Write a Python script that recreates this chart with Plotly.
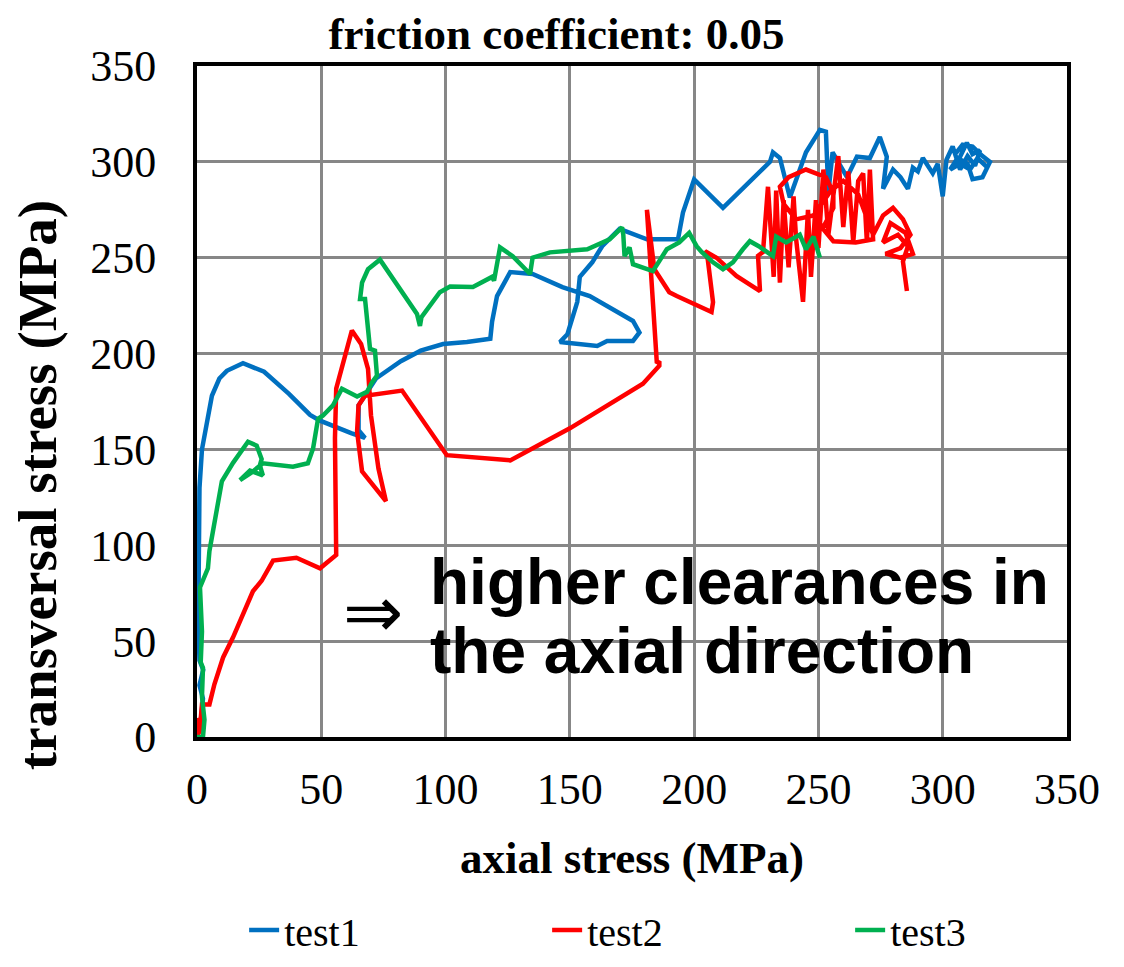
import plotly.graph_objects as go

# ---- data ----
test1_x = [0, 1.5, 2.4, 1, 2.5, 1, 0.5, 0.8, 1, 2, 4, 6, 9, 12, 18.5, 27, 37, 45.5, 49.5, 55, 62, 67.6,
           65, 65, 72, 82, 90, 99, 108.6, 118, 118.7, 120.7, 126, 135, 147, 158, 169, 175.4, 178, 175.4,
           165, 161, 146, 149, 153, 154, 159, 163, 170, 181, 193.5, 195.5, 200, 211.6, 230.5, 231.7,
           234.5, 238.5, 245, 250.6, 253, 254, 255.7, 261.5, 265.5, 270.7, 274.7, 277.5, 276, 280, 283,
           286, 288, 290, 292, 294, 296, 298, 300, 301.5, 304, 306, 308, 309.7, 312, 315, 313, 310, 307,
           305, 308, 312, 316, 319, 316, 312, 310, 306, 303, 307, 311, 314, 318]
test1_y = [0, 8, 20, 27, 35, 40, 60, 100, 130, 150, 165, 178, 187, 191, 195, 190.5, 179, 168, 165, 162,
           158.5, 156, 160, 173, 187, 196, 201.5, 205, 206, 207.7, 216.5, 230, 242.5, 241.5, 234.7, 230,
           221.7, 217, 211, 206.6, 206.6, 204, 206, 210, 227, 240, 247.6, 256, 265, 259.6, 259.6, 273.6,
           290.8, 276, 300, 305, 302, 281.4, 305, 316.7, 315.7, 284, 305, 292, 302.7, 302, 313, 302.7,
           286, 296, 292, 286, 297, 295, 302, 298, 294, 299, 282, 301, 308, 300, 306, 310, 304, 306, 298,
           303, 296, 304, 309, 308, 303, 300, 292, 291, 299, 302, 296, 299, 296, 302, 297]

test2_x = [0, 1, 0.5, 1, 2, 5, 7, 10.5, 14.5, 18.5, 22.5, 26, 30.6, 40, 49.5, 56, 55.5, 56, 59.5, 62.3,
           66, 68.8, 70, 73, 76, 66.4, 64.4, 65, 67.6, 82.5, 100.5, 126, 150, 179.4, 186, 186, 185, 181,
           184, 190, 193, 207, 207.6, 205.5, 204.4, 209, 217, 226.5, 225.7, 227.7, 229.7, 232, 233,
           234.5, 236, 238, 240, 241, 243.8, 245.8, 247, 249, 250, 252, 254, 258, 260, 262, 264, 266,
           268, 269.5, 270.7, 272, 265, 256, 250, 252, 256, 256, 253, 245, 238, 234.5, 236, 241, 248,
           255, 260, 266, 272, 276, 280, 284, 287, 283, 277, 283, 288, 285, 279, 276, 282, 286, 284,
           285.6]
test2_y = [0, 3, 10, 2, 17, 17, 27.5, 41.5, 52, 64, 76, 81.5, 92, 93.5, 88, 95, 155.8, 181.7, 199, 212,
           205, 192, 167.7, 140, 123, 138.6, 159.4, 173, 178, 180.7, 147, 144.3, 161, 184.3, 193.7, 196,
           195, 275, 244, 232, 230, 221.7, 226.8, 249, 253.4, 250, 240.5, 232.6, 251, 253, 287, 240, 285,
           237, 280, 245, 282, 260, 227, 275, 240, 280, 255, 296, 262, 303, 266, 295, 258, 290, 294, 258,
           296, 259.6, 258, 258.6, 268, 266, 276, 284, 292, 296, 292, 287, 278, 270, 272, 285, 290, 283,
           262, 272, 276, 270, 262, 255, 252, 250, 252, 263, 268, 258, 262, 256, 248, 232.6]

test3_x = [0, 2.4, 3, 2, 2.4, 1.5, 2, 1.2, 4.4, 5, 10, 14.5, 20.5, 24, 26, 25.3, 26.5, 21.3, 17.3, 22,
           26.5, 38.6, 44.6, 46.7, 48.7, 50.7, 54.7, 58.3, 64.4, 68.4, 70.4, 72.4, 71.6, 69.6, 67.6,
           65.6, 66.4, 68.8, 73.6, 81.7, 88.5, 89.7, 90.3, 97.7, 101.8, 111, 118.7, 119.5, 121.9, 127,
           134, 135, 142, 157, 166, 171, 171.5, 172, 174, 175.4, 183.4, 189, 194, 198, 201, 203, 207.6,
           211.6, 215.6, 219.6, 222.4, 226, 231.7, 233, 237, 242.5, 245, 248, 250.6]
test3_y = [0, 0, 9, 21, 36, 39, 55, 78, 88, 97, 133.4, 143, 154, 152, 145, 141.7, 136.5, 139, 134, 138,
           142.8, 141, 142.8, 150.5, 166, 167.7, 173, 181.7, 177.6, 180, 185, 188.5, 201.5, 202.5, 228.5,
           228.5, 237, 244, 249, 233.6, 220.7, 214.4, 219, 232, 235, 234.7, 240, 238, 255.4, 250.8,
           241.5, 250, 252.8, 254.4, 259.6, 265.8, 262, 250.8, 255.4, 246.6, 243, 254.4, 258, 263, 256,
           253, 247.6, 244, 247.6, 254.4, 258.6, 256, 250.8, 261, 258, 262, 254.4, 261, 250]

series_names = ["test1", "test2", "test3"]
series_colors = ["#0070C0", "#FF0000", "#00B050"]
tick_vals = [0, 50, 100, 150, 200, 250, 300, 350]

SERIF = "Liberation Serif, Times New Roman, serif"
SANS = "Liberation Sans, Arial, sans-serif"

fig = go.Figure()
for name, xs, ys, col in zip(series_names,
                             [test1_x, test2_x, test3_x],
                             [test1_y, test2_y, test3_y],
                             series_colors):
    fig.add_trace(go.Scatter(x=xs, y=ys, mode="lines", name=name,
                             line=dict(color=col, width=4.5)))

axis_common = dict(
    range=[0, 350], tickvals=tick_vals, showgrid=True, gridcolor="#878787", gridwidth=3,
    zeroline=False, showline=True, linecolor="black", linewidth=4, mirror=True,
    tickfont=dict(family=SERIF, size=44, color="black"), ticks="", automargin=False,
)
fig.update_xaxes(**axis_common, ticklabelstandoff=10,
                 title=dict(text="<b>axial stress (MPa)</b>", font=dict(family=SERIF, size=45, color="black"),
                            standoff=30))
fig.update_yaxes(**axis_common, ticklabelstandoff=28)

# y-axis title (placed lower than centre, as in the reference)
fig.add_annotation(x=-0.183, y=0.375, xref="paper", yref="paper", xanchor="center", yanchor="middle",
                   text="<b>transversal stress (MPa)</b>", textangle=-90, showarrow=False,
                   font=dict(family=SERIF, size=55, color="black"))

fig.add_annotation(x=93, y=81, xref="x", yref="y", xanchor="left", yanchor="middle", align="left",
                   text="<b>higher clearances in</b>", showarrow=False,
                   font=dict(family=SANS, size=64, color="black"))
fig.add_annotation(x=93, y=45, xref="x", yref="y", xanchor="left", yanchor="middle", align="left",
                   text="<b>the axial direction</b>", showarrow=False,
                   font=dict(family=SANS, size=64, color="black"))
fig.add_annotation(x=58, y=65, xref="x", yref="y", xanchor="left", yanchor="middle",
                   text="⇒", showarrow=False,
                   font=dict(family="DejaVu Sans", size=72, color="black"))

fig.update_layout(
    width=1124, height=967,
    margin=dict(l=189, r=65, t=58, b=235),
    plot_bgcolor="white", paper_bgcolor="white",
    title=dict(text="<b>friction coefficient: 0.05</b>", x=0.488, xanchor="center", y=0.9741, yanchor="middle",
               font=dict(family=SERIF, size=45, color="black")),
    showlegend=True,
    legend=dict(orientation="h", x=-0.001, xanchor="left", y=-0.2878, yanchor="middle",
                entrywidth=210, entrywidthmode="pixels", itemwidth=30, indentation=48,
                font=dict(family=SERIF, size=40, color="black"), bgcolor="rgba(0,0,0,0)"),
)

fig.write_html("out.html")
